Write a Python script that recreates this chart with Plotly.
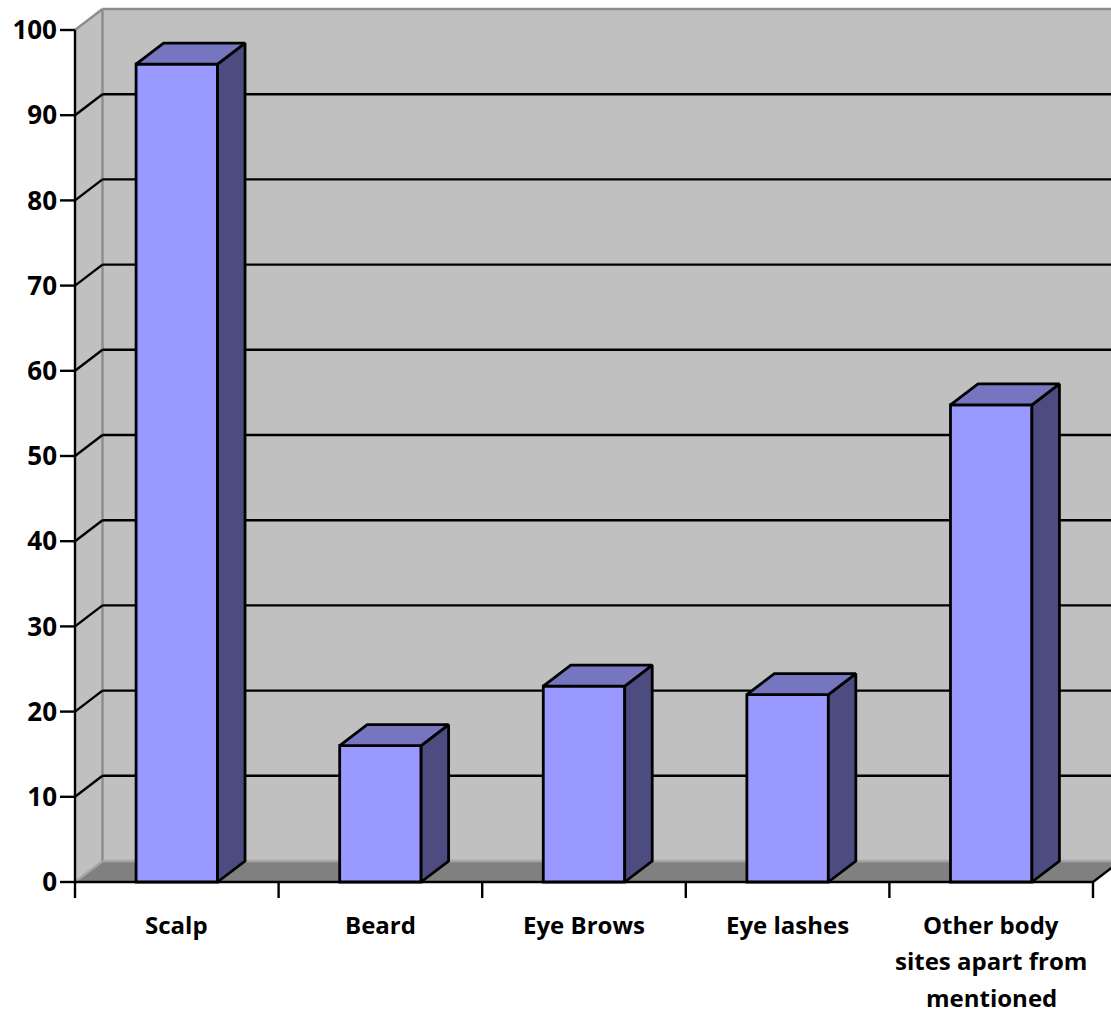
import plotly.graph_objects as go

# ---- data -------------------------------------------------------------
categories = ["Scalp", "Beard", "Eye Brows", "Eye lashes",
              "Other body<br>sites apart from<br>mentioned"]
values = [96, 16, 23, 22, 56]
y_ticks = list(range(0, 101, 10))

# ---- geometry (pixels -> data units) ----------------------------------
W, H = 1111, 1016
ML, MT, MB = 58, 0, 111
PX_X = 203.6          # pixels per category slot
PX_Y = 8.52           # pixels per value unit
FRONT_PAD_L = 17      # px between plot-area edge and front-left edge
FRONT_PAD_B = 23      # px between value 0 and plot-area bottom
DX = 27.5 / PX_X      # depth offset (x)
DY = 21.0 / PX_Y      # depth offset (y)
BAR_W = 0.4
Y_MAX = 100

n = len(categories)
x_left, x_right = -0.5, n - 0.5
x0 = x_left - FRONT_PAD_L / PX_X
x1 = x0 + (W - ML) / PX_X
y0 = -FRONT_PAD_B / PX_Y
y1 = y0 + (H - MT - MB) / PX_Y

WALL = "#c0c0c0"
FLOOR = "#808080"
EDGE = "#8c8c8c"
FRONT = "#9999ff"
TOP = "#7676c0"
SIDE = "#4c4c80"
LW = 2.8
GW = 2.4

font_lbl = dict(family="Open Sans", size=26, color="black", weight="bold")
font_cat = dict(family="Open Sans", size=24, color="black", weight="bold")


def poly(pts):
    return "M " + " L ".join(f"{x},{y}" for x, y in pts) + " Z"


def seg(xa, ya, xb, yb, color="black", width=GW):
    return dict(type="line", xref="x", yref="y", x0=xa, y0=ya, x1=xb, y1=yb,
                line=dict(color=color, width=width), layer="below")


shapes = []
# back wall, side wall, floor
shapes.append(dict(type="path", xref="x", yref="y", layer="below",
                   path=poly([(x_left + DX, DY), (x_right + DX, DY),
                              (x_right + DX, Y_MAX + DY), (x_left + DX, Y_MAX + DY)]),
                   fillcolor=WALL, line=dict(width=0)))
shapes.append(dict(type="path", xref="x", yref="y", layer="below",
                   path=poly([(x_left, 0), (x_left + DX, DY),
                              (x_left + DX, Y_MAX + DY), (x_left, Y_MAX)]),
                   fillcolor=WALL, line=dict(width=0)))
shapes.append(dict(type="path", xref="x", yref="y", layer="below",
                   path=poly([(x_left, 0), (x_right, 0),
                              (x_right + DX, DY), (x_left + DX, DY)]),
                   fillcolor=FLOOR, line=dict(width=0)))
# wall borders
shapes.append(seg(x_left, Y_MAX, x_left + DX, Y_MAX + DY, EDGE))
shapes.append(seg(x_left + DX, Y_MAX + DY, x_right + DX, Y_MAX + DY, EDGE))
shapes.append(seg(x_left + DX, DY, x_left + DX, Y_MAX + DY, EDGE))
shapes.append(seg(x_left + DX, DY, x_right + DX, DY, "#a6a6a6"))
shapes.append(seg(x_left, 0, x_left + DX, DY, "#a6a6a6"))
# gridlines
for v in y_ticks:
    if 0 < v < Y_MAX:
        shapes.append(seg(x_left, v, x_left + DX, v + DY))
        shapes.append(seg(x_left + DX, v + DY, x_right + DX, v + DY))
# front edges
shapes.append(seg(x_left, 0, x_left, Y_MAX))
shapes.append(seg(x_left, 0, x_right, 0))
shapes.append(seg(x_right, 0, x_right + DX, DY))
# value ticks
for v in y_ticks:
    shapes.append(seg(x_left - 15 / PX_X, v, x_left, v))
# category boundary ticks
for i in range(n + 1):
    b = x_left + i
    shapes.append(seg(b, 0, b, -16 / PX_Y))

fig = go.Figure()
fig.add_trace(go.Bar(x=list(range(n)), y=values, width=BAR_W,
                     marker=dict(color=FRONT, line=dict(color="black", width=LW)),
                     hoverinfo="skip", showlegend=False))

for i, v in enumerate(values):
    xl, xr = i - BAR_W / 2, i + BAR_W / 2
    side_x = [xr, xr + DX, xr + DX, xr, xr]
    side_y = [0, DY, v + DY, v, 0]
    top_x = [xl, xr, xr + DX, xl + DX, xl]
    top_y = [v, v, v + DY, v + DY, v]
    fig.add_trace(go.Scatter(x=side_x, y=side_y, mode="lines", fill="toself",
                             fillcolor=SIDE, line=dict(color="black", width=LW),
                             hoverinfo="skip", showlegend=False))
    fig.add_trace(go.Scatter(x=top_x, y=top_y, mode="lines", fill="toself",
                             fillcolor=TOP, line=dict(color="black", width=LW),
                             hoverinfo="skip", showlegend=False))

# category labels below the plot area, one annotation per text line
LABEL_TOP = 42        # px below value 0 for the first line's centre
LINE_H = 36.5
annotations = []
for i, lab in enumerate(categories):
    for k, line in enumerate(lab.split("<br>")):
        annotations.append(dict(x=i, y=0, xref="x", yref="paper",
                                yshift=-(LABEL_TOP - FRONT_PAD_B + k * LINE_H),
                                text=line, showarrow=False,
                                xanchor="center", yanchor="middle",
                                font=font_cat))

fig.update_layout(
    width=W, height=H,
    margin=dict(l=ML, r=0, t=MT, b=MB, pad=0),
    paper_bgcolor="white", plot_bgcolor="white",
    shapes=shapes, annotations=annotations,
    xaxis=dict(range=[x0, x1], showgrid=False, zeroline=False, showline=False,
               showticklabels=False, ticks="", fixedrange=True),
    yaxis=dict(range=[y0, y1], tickvals=y_ticks, showgrid=False, zeroline=False,
               showline=False, ticks="", tickfont=font_lbl, fixedrange=True),
    showlegend=False,
)

fig.write_html("out.html")
